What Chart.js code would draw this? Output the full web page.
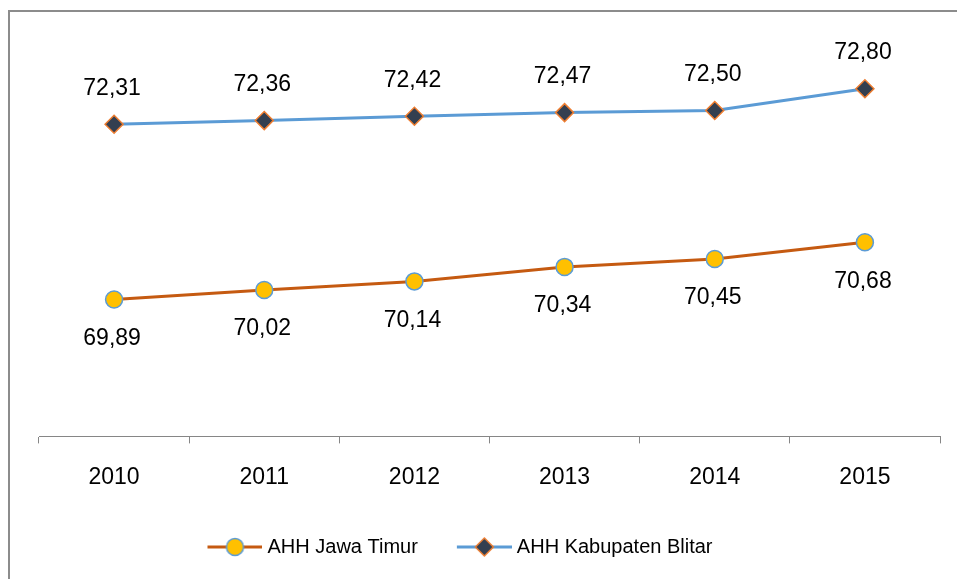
<!DOCTYPE html>
<html>
<head>
<meta charset="utf-8">
<script src="https://cdn.jsdelivr.net/npm/chart.js@4/dist/chart.umd.min.js"></script>
<style>
  body { margin: 0; background: #fff; }
  #wrap { position: relative; width: 957px; height: 579px; }
  #frame {
    position: absolute; left: 8px; top: 10px; right: -10px; bottom: -10px;
    border-left: 2px solid #8c8c8c; border-top: 2px solid #8c8c8c;
    pointer-events: none;
  }
</style>
</head>
<body>
<div id="wrap">
  <canvas id="ahhChart" width="957" height="579"></canvas>
  <div id="frame"></div>
</div>
<script>
// Data
const tahun = ['2010', '2011', '2012', '2013', '2014', '2015'];
const ahhJatim = [69.89, 70.02, 70.14, 70.34, 70.45, 70.68];
const ahhBlitar = [72.31, 72.36, 72.42, 72.47, 72.50, 72.80];

Chart.defaults.font.family = "'Liberation Sans', Arial, sans-serif";
Chart.defaults.color = '#000';

// legend marker: short line with the point on it (left part of the image is empty)
function legendIcon(lineColor, fill, stroke, shape) {
  const c = document.createElement('canvas');
  c.width = 73; c.height = 22;
  const g = c.getContext('2d');
  const x0 = 18, cx = 18 + 27.5;
  g.strokeStyle = lineColor;
  g.lineWidth = 3;
  g.beginPath(); g.moveTo(x0, 11); g.lineTo(73, 11); g.stroke();
  g.fillStyle = fill;
  g.strokeStyle = stroke;
  g.lineWidth = 1.5;
  g.beginPath();
  if (shape === 'circle') {
    g.arc(cx, 11, 8.5, 0, Math.PI * 2);
  } else {
    g.moveTo(cx - 9, 11); g.lineTo(cx, 2); g.lineTo(cx + 9, 11); g.lineTo(cx, 20); g.closePath();
  }
  g.fill(); g.stroke();
  return c;
}
const iconJatim = legendIcon('#C55A11', '#FFC000', '#5B9BD5', 'circle');
const iconBlitar = legendIcon('#5B9BD5', '#333F50', '#ED7D31', 'diamond');

// value labels, comma as decimal separator
const valueLabels = {
  id: 'valueLabels',
  afterDatasetsDraw(chart) {
    const ctx = chart.ctx;
    ctx.save();
    ctx.font = "23px 'Liberation Sans', Arial, sans-serif";
    ctx.fillStyle = '#000';
    ctx.textAlign = 'center';
    ctx.textBaseline = 'middle';
    chart.data.datasets.forEach((ds, i) => {
      const off = i === 0 ? 39 : -36;
      chart.getDatasetMeta(i).data.forEach((pt, j) => {
        ctx.fillText(ds.data[j].toFixed(2).replace('.', ','), pt.x - 2, pt.y + off);
      });
    });
    ctx.restore();
  }
};

const shiftLegend = {
  id: 'shiftLegend',
  afterLayout(chart) {
    chart.legend.left -= 36;
    chart.legend.right -= 36;
  }
};

new Chart(document.getElementById('ahhChart'), {
  type: 'line',
  data: {
    labels: tahun,
    datasets: [{
      label: 'AHH Jawa Timur',
      data: ahhJatim,
      borderColor: '#C55A11',
      borderWidth: 3,
      pointStyle: 'circle',
      pointRadius: 8.5,
      pointBackgroundColor: '#FFC000',
      pointBorderColor: '#5B9BD5',
      pointBorderWidth: 1.5,
      tension: 0
    }, {
      label: 'AHH Kabupaten Blitar',
      data: ahhBlitar,
      borderColor: '#5B9BD5',
      borderWidth: 3,
      pointStyle: 'rectRot',
      pointRadius: 9,
      pointBackgroundColor: '#333F50',
      pointBorderColor: '#ED7D31',
      pointBorderWidth: 1.5,
      tension: 0
    }]
  },
  options: {
    responsive: false,
    animation: false,
    layout: { padding: { left: 39, right: 17, top: 38, bottom: 12 } },
    scales: {
      x: {
        offset: true,
        grid: { offset: true, drawOnChartArea: false, drawTicks: true, tickLength: 7, color: '#868686' },
        border: { color: '#868686', width: 1 },
        ticks: { font: { size: 23 }, padding: 20, color: '#000' }
      },
      y: {
        display: false,
        min: 68,
        max: 73.5
      }
    },
    plugins: {
      tooltip: { enabled: false },
      legend: {
        position: 'bottom',
        labels: {
          usePointStyle: true,
          pointStyleWidth: 63,
          padding: 26,
          font: { size: 20 },
          color: '#000',
          generateLabels(chart) {
            return chart.data.datasets.map((ds, i) => ({
              text: ds.label,
              pointStyle: i === 0 ? iconJatim : iconBlitar,
              fillStyle: 'transparent',
              strokeStyle: 'transparent',
              lineWidth: 0,
              datasetIndex: i
            }));
          }
        }
      }
    }
  },
  plugins: [valueLabels, shiftLegend]
});
</script>
</body>
</html>
